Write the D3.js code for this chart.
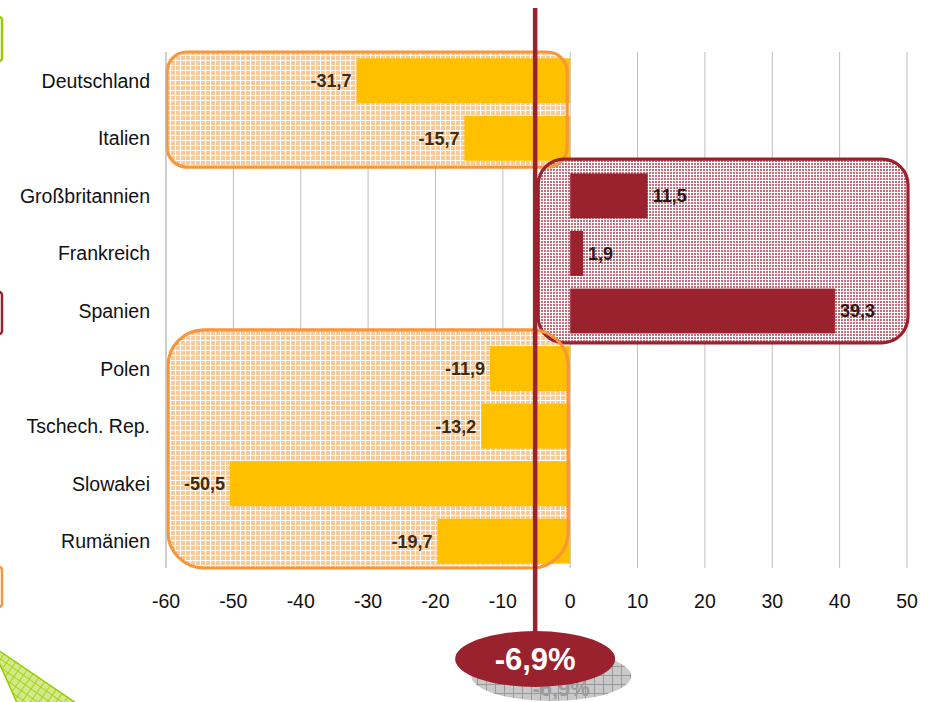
<!DOCTYPE html>
<html>
<head>
<meta charset="utf-8">
<script src="https://cdn.jsdelivr.net/npm/d3@7"></script>
<style>
  body { margin: 0; background: #fff; }
  svg { display: block; font-family: "Liberation Sans", Arial, sans-serif; }
</style>
</head>
<body>
<div id="chart"></div>
<script>
// data
var categories = ['Deutschland', 'Italien', 'Großbritannien', 'Frankreich', 'Spanien',
                  'Polen', 'Tschech. Rep.', 'Slowakei', 'Rumänien'];
var values = [-31.7, -15.7, 11.5, 1.9, 39.3, -11.9, -13.2, -50.5, -19.7];
var labels = ['-31,7', '-15,7', '11,5', '1,9', '39,3', '-11,9', '-13,2', '-50,5', '-19,7'];
var xTicks = [-60, -50, -40, -30, -20, -10, 0, 10, 20, 30, 40, 50];
var groupFirst = ['Deutschland', 'Großbritannien', 'Polen'];
var groupLast = ['Italien', 'Spanien', 'Rumänien'];
var groupKind = ['neg', 'pos', 'neg'];
var averageValue = -5.2;     // where the marker line stands on the axis
var averageLabel = '-6,9%';

var width = 934;
var height = 702;
var yellow = '#FFC000';
var red = '#9A212E';
var orange = '#F7963C';
var green = '#99CC00';

var svg = d3.select('#chart').append('svg')
    .attr('width', width)
    .attr('height', height);

// patterns
var defs = svg.append('defs');

var pOr = defs.append('pattern').attr('id', 'pOrange')
    .attr('patternUnits', 'userSpaceOnUse').attr('width', 5).attr('height', 5);
pOr.append('rect').attr('width', 5).attr('height', 5).attr('fill', '#F9C28A');
pOr.append('rect').attr('width', 5).attr('height', 1).attr('fill', '#fff');
pOr.append('rect').attr('width', 1).attr('height', 5).attr('fill', '#fff');

var pRd = defs.append('pattern').attr('id', 'pRed')
    .attr('patternUnits', 'userSpaceOnUse').attr('width', 3).attr('height', 3);
pRd.append('rect').attr('width', 3).attr('height', 3).attr('fill', '#C25866');
pRd.append('rect').attr('width', 3).attr('height', 1).attr('fill', '#fff');
pRd.append('rect').attr('width', 1).attr('height', 3).attr('fill', '#fff');

var pGr = defs.append('pattern').attr('id', 'pGrey')
    .attr('patternUnits', 'userSpaceOnUse').attr('width', 9).attr('height', 9);
pGr.append('rect').attr('width', 9).attr('height', 9).attr('fill', '#C9C9C9');
pGr.append('rect').attr('width', 9).attr('height', 1).attr('fill', '#9a9a9a');
pGr.append('rect').attr('width', 1).attr('height', 9).attr('fill', '#9a9a9a');

var pGn = defs.append('pattern').attr('id', 'pGreen')
    .attr('patternUnits', 'userSpaceOnUse').attr('width', 7).attr('height', 7)
    .attr('patternTransform', 'rotate(35)');
pGn.append('rect').attr('width', 7).attr('height', 7).attr('fill', '#D3EA8C');
pGn.append('rect').attr('width', 7).attr('height', 1).attr('fill', '#A6D21A');
pGn.append('rect').attr('width', 1).attr('height', 7).attr('fill', '#A6D21A');

// scales
var x = d3.scaleLinear().domain([-60, 50]).range([166, 907]);
var y = d3.scaleBand().domain(categories).range([52, 570]).paddingInner(0.22).paddingOuter(0.11);
var yBand = d3.scaleBand().domain(categories).range([52, 570]);

// decorative slivers at the left edge
svg.append('rect').attr('x', -12).attr('y', 17).attr('width', 14).attr('height', 44)
    .attr('rx', 3).attr('fill', 'none').attr('stroke', green).attr('stroke-width', 2.5);
svg.append('rect').attr('x', -12).attr('y', 292).attr('width', 14).attr('height', 42)
    .attr('rx', 3).attr('fill', 'none').attr('stroke', red).attr('stroke-width', 2.5);
svg.append('rect').attr('x', -12).attr('y', 567).attr('width', 14).attr('height', 40)
    .attr('rx', 3).attr('fill', 'none').attr('stroke', orange).attr('stroke-width', 2.5);
svg.append('polygon')
    .attr('points', '-2,650 76,703 17,703 -2,660')
    .attr('fill', 'url(#pGreen)')
    .attr('stroke', green).attr('stroke-width', 1.5);

// gridlines
svg.append('g').selectAll('line').data(xTicks).join('line')
    .attr('x1', d => x(d)).attr('x2', d => x(d))
    .attr('y1', 52).attr('y2', 568)
    .attr('stroke', '#BDBDBD').attr('stroke-width', 1);

// group boxes
var boxPad = [
    { l: 1, r: -3, t: 0, b: 0, rx: 20 },
    { l: 0, r: 1, t: -8, b: 3, rx: 26 },
    { l: 2, r: -2, t: -10, b: -2, rx: 36 }
];
function boxRect(i) {
    var y0 = yBand(groupFirst[i]) + boxPad[i].t;
    var y1 = yBand(groupLast[i]) + yBand.bandwidth() + boxPad[i].b;
    var x0, x1;
    if (groupKind[i] === 'neg') {
        x0 = x(-60) + boxPad[i].l;
        x1 = x(0) + boxPad[i].r;
    } else {
        x0 = x(averageValue) + 3;
        x1 = x(50) + boxPad[i].r;
    }
    return { x: x0, y: y0, w: x1 - x0, h: y1 - y0, rx: boxPad[i].rx };
}
var boxes = groupFirst.map((g, i) => Object.assign(boxRect(i), { kind: groupKind[i] }));

svg.append('g').selectAll('rect').data(boxes).join('rect')
    .attr('x', d => d.x).attr('y', d => d.y)
    .attr('width', d => d.w).attr('height', d => d.h)
    .attr('rx', d => d.rx)
    .attr('fill', d => d.kind === 'neg' ? 'url(#pOrange)' : 'url(#pRed)')
    .attr('fill-opacity', 0.88);

// bars
svg.append('g').selectAll('rect').data(values).join('rect')
    .attr('x', d => x(Math.min(0, d)))
    .attr('y', (d, i) => y(categories[i]))
    .attr('width', d => Math.abs(x(d) - x(0)))
    .attr('height', y.bandwidth())
    .attr('fill', d => d < 0 ? yellow : red);

// box outlines
svg.append('g').selectAll('rect').data(boxes).join('rect')
    .attr('x', d => d.x).attr('y', d => d.y)
    .attr('width', d => d.w).attr('height', d => d.h)
    .attr('rx', d => d.rx)
    .attr('fill', 'none')
    .attr('stroke', d => d.kind === 'neg' ? orange : red)
    .attr('stroke-width', 3.2);

// left axis line
svg.append('line')
    .attr('x1', x(-60)).attr('x2', x(-60))
    .attr('y1', 52).attr('y2', 568)
    .attr('stroke', '#BDBDBD');

// category labels
svg.append('g').selectAll('text').data(categories).join('text')
    .attr('x', 150)
    .attr('y', d => yBand(d) + yBand.bandwidth() / 2)
    .attr('dy', '0.36em')
    .attr('text-anchor', 'end')
    .attr('font-size', 19.5)
    .attr('fill', '#111')
    .text(d => d);

// x tick labels
svg.append('g').selectAll('text').data(xTicks).join('text')
    .attr('x', d => x(d))
    .attr('y', 608)
    .attr('text-anchor', 'middle')
    .attr('font-size', 19.5)
    .attr('fill', '#111')
    .text(d => d);

// average marker: shadow ellipse, line, ellipse
var avgX = x(averageValue);
svg.append('ellipse')
    .attr('cx', avgX + 16).attr('cy', 676)
    .attr('rx', 80).attr('ry', 25)
    .attr('fill', 'url(#pGrey)');
svg.append('text')
    .attr('x', avgX + 26).attr('y', 696)
    .attr('text-anchor', 'middle')
    .attr('font-size', 22).attr('font-weight', 'bold')
    .attr('fill', '#9c9c9c')
    .text(averageLabel);

svg.append('line')
    .attr('x1', avgX).attr('x2', avgX)
    .attr('y1', 8).attr('y2', 640)
    .attr('stroke', red).attr('stroke-width', 4.5);

svg.append('ellipse')
    .attr('cx', avgX).attr('cy', 659)
    .attr('rx', 80).attr('ry', 28)
    .attr('fill', red);
svg.append('text')
    .attr('x', avgX).attr('y', 659)
    .attr('dy', '0.34em')
    .attr('text-anchor', 'middle')
    .attr('font-size', 31).attr('font-weight', 'bold')
    .attr('fill', '#fff')
    .text(averageLabel);

// value labels
svg.append('g').selectAll('text').data(values).join('text')
    .attr('x', d => d < 0 ? x(d) - 5 : x(d) + 5)
    .attr('y', (d, i) => yBand(categories[i]) + yBand.bandwidth() / 2)
    .attr('dy', '0.36em')
    .attr('text-anchor', d => d < 0 ? 'end' : 'start')
    .attr('font-size', 18).attr('font-weight', 'bold')
    .attr('fill', d => d < 0 ? '#3E2B12' : '#2E1717')
    .text((d, i) => labels[i]);
</script>
</body>
</html>
